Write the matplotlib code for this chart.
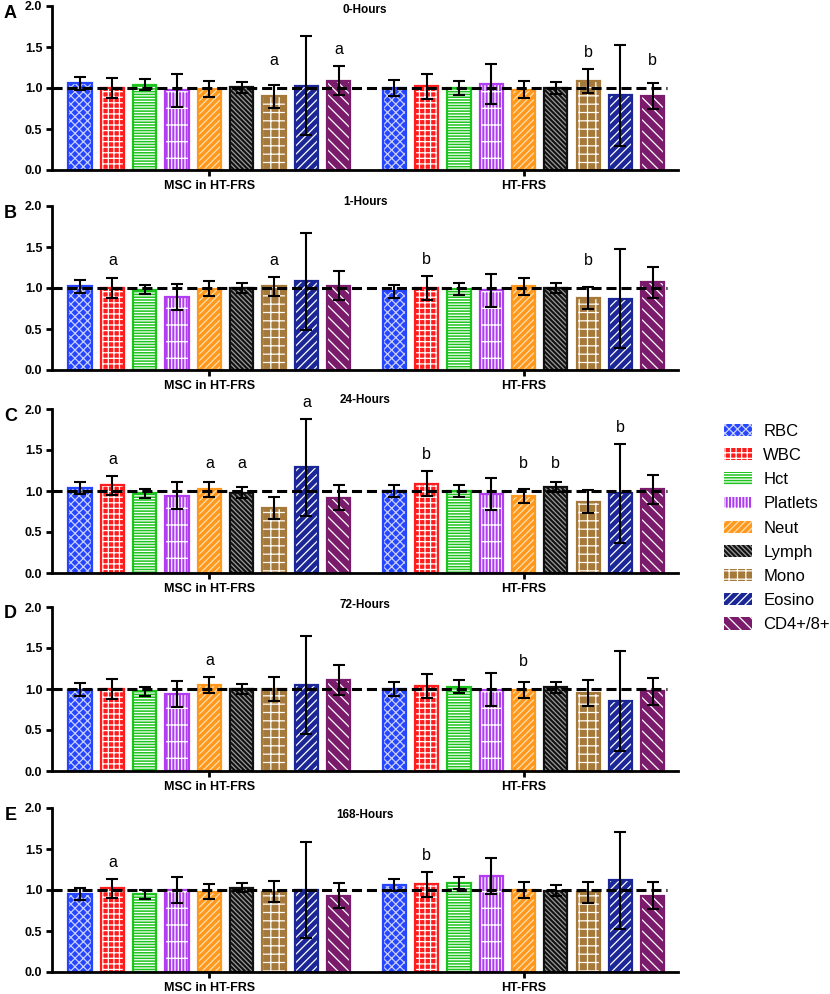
import matplotlib
matplotlib.use("Agg")
import matplotlib.pyplot as plt
from matplotlib.patches import Patch
from matplotlib.transforms import blended_transform_factory
import numpy as np

plt.rcParams['font.family'] = ['Liberation Sans', 'DejaVu Sans']
plt.rcParams['hatch.linewidth'] = 0.9

# cell types, shown in the same order in both groups
cells = ["RBC", "WBC", "Hct", "Platlets", "Neut", "Lymph", "Mono", "Eosino", "CD4+/8+"]
groups = ["MSC in HT-FRS", "HT-FRS"]
panels = ["A", "B", "C", "D", "E"]
titles = ["0-Hours", "1-Hours", "24-Hours", "72-Hours", "168-Hours"]

# ratio to baseline, first 9 = MSC in HT-FRS, last 9 = HT-FRS
mean_0h = [1.06, 1.00, 1.04, 0.97, 0.99, 1.01, 0.90, 1.03, 1.09,
           1.00, 1.02, 1.00, 1.05, 0.98, 1.00, 1.09, 0.91, 0.90]
err_0h = [0.08, 0.12, 0.07, 0.20, 0.095, 0.065, 0.14, 0.60, 0.18,
          0.095, 0.155, 0.09, 0.24, 0.10, 0.07, 0.145, 0.615, 0.16]

mean_1h = [1.02, 1.00, 0.98, 0.89, 0.99, 1.00, 1.02, 1.08, 1.03,
           0.96, 1.00, 0.99, 0.97, 1.02, 1.00, 0.88, 0.87, 1.07]
err_1h = [0.08, 0.12, 0.057, 0.16, 0.09, 0.06, 0.12, 0.59, 0.18,
          0.08, 0.145, 0.075, 0.20, 0.10, 0.065, 0.13, 0.60, 0.19]

mean_24h = [1.04, 1.07, 0.97, 0.94, 1.02, 0.98, 0.79, 1.29, 0.92,
            1.00, 1.09, 1.00, 0.96, 0.94, 1.05, 0.87, 0.97, 1.02]
err_24h = [0.075, 0.115, 0.06, 0.165, 0.095, 0.063, 0.135, 0.59, 0.155,
           0.075, 0.15, 0.07, 0.195, 0.085, 0.065, 0.14, 0.60, 0.18]

mean_72h = [0.99, 1.00, 0.97, 0.94, 1.05, 1.00, 1.00, 1.05, 1.11,
            1.00, 1.04, 1.03, 0.99, 0.99, 1.02, 0.95, 0.85, 0.97]
err_72h = [0.08, 0.12, 0.06, 0.16, 0.10, 0.06, 0.145, 0.60, 0.185,
           0.08, 0.145, 0.075, 0.20, 0.095, 0.065, 0.16, 0.61, 0.17]

mean_168h = [0.95, 1.02, 0.95, 1.00, 0.98, 1.03, 0.98, 1.00, 0.93,
             1.06, 1.07, 1.09, 1.17, 1.00, 0.99, 0.97, 1.12, 0.93]
err_168h = [0.075, 0.115, 0.055, 0.16, 0.088, 0.058, 0.125, 0.59, 0.15,
            0.075, 0.15, 0.072, 0.215, 0.095, 0.067, 0.13, 0.59, 0.165]

# significant cells: "a" in MSC group, "b" in HT-FRS group
sig_0h = ["Mono", "CD4+/8+"]
sig_1h = ["WBC", "Mono"]
sig_24h = ["WBC", "Neut", "Lymph", "Eosino"]
sig_72h = ["Neut"]
sig_168h = ["WBC"]

means = [mean_0h, mean_1h, mean_24h, mean_72h, mean_168h]
errs = [err_0h, err_1h, err_24h, err_72h, err_168h]
sigs = [sig_0h, sig_1h, sig_24h, sig_72h, sig_168h]

# styles
colors = ["#2645ff", "#ff1c1c", "#1ec41e", "#b13cf0", "#ff981c",
          "#111111", "#a5793a", "#1b2796", "#7a1c6b"]
hatches = ["xxxx", "+++", "------", "|||||-", "/////", "\\" * 7, "++", "////", "\\\\\\"]
hatch_cols = ["#c8d0ff", "white", "white", "white", "#ffe0b0",
              "#9a9a9a", "white", "white", "white"]

W, H = 830, 994
bottoms_px = [170, 370, 573, 771, 972]
ax_h_px = 164
title_y = [1.95, 2.05, 2.11, 2.02, 1.91]

gap = 1.72
x1 = np.arange(9)
x2 = np.arange(9) + 8 + gap
xs = np.concatenate([x1, x2])
bw = 0.72

fig = plt.figure(figsize=(W / 100, H / 100), dpi=100)

for p in range(5):
    b = bottoms_px[p]
    ax = fig.add_axes([52 / W, 1 - b / H, 626 / W, ax_h_px / H])
    m = means[p]
    e = errs[p]
    for i, x in enumerate(xs):
        k = i % 9
        ax.bar(x, m[i], width=bw, color=colors[k], edgecolor=hatch_cols[k],
               hatch=hatches[k], linewidth=0, zorder=2)
        ax.bar(x, m[i], width=bw, fill=False, edgecolor=colors[k],
               linewidth=1.6, zorder=2.5)
    xl = (-0.87, 18.5)
    ax.plot([xl[0], 18.17], [1, 1], color="black", lw=2.2,
            ls=(0, (3.3, 1.6)), zorder=3, clip_on=False)
    ax.errorbar(xs, m, yerr=e, fmt="none", ecolor="black", elinewidth=1.5,
                capsize=4.6, capthick=1.5, zorder=4)
    for i, x in enumerate(xs):
        k = i % 9
        if cells[k] in sigs[p]:
            letter = "a" if i < 9 else "b"
            y = max(m[i] + e[i] + 0.2, 1.33)
            ax.text(x, y, letter, ha="center", va="center", fontsize=11.5)

    ax.set_xlim(*xl)
    ax.set_ylim(0, 2.0)
    ax.set_yticks([0, 0.5, 1.0, 1.5, 2.0])
    ax.set_yticklabels(["%.1f" % v for v in [0, 0.5, 1.0, 1.5, 2.0]],
                       fontweight="bold", fontsize=9)
    ax.set_xticks([4, 8 + gap + 4])
    ax.set_xticklabels(groups, fontweight="bold", fontsize=9)
    ax.tick_params(axis="both", length=4, width=2, pad=3)
    for s in ["top", "right"]:
        ax.spines[s].set_visible(False)
    for s in ["left", "bottom"]:
        ax.spines[s].set_linewidth(2)

    tr = blended_transform_factory(ax.transAxes, ax.transData)
    ax.text(0.5, title_y[p], titles[p], transform=tr, ha="center", va="center",
            fontweight="bold", fontsize=8.5)
    fig.text(10.5 / W, 1 - (b - ax_h_px + 7) / H, panels[p], ha="center",
             va="center", fontweight="bold", fontsize=13)

handles = [Patch(facecolor=colors[k], edgecolor=hatch_cols[k], hatch=hatches[k],
                 linewidth=0) for k in range(9)]
fig.legend(handles, cells, loc="upper left", bbox_to_anchor=(724 / W, 1 - 424 / H),
           frameon=False, fontsize=12, handlelength=1.7, handleheight=0.75,
           labelspacing=0.55, handletextpad=0.65, borderpad=0, borderaxespad=0)

fig.savefig("out.png", dpi=100)
